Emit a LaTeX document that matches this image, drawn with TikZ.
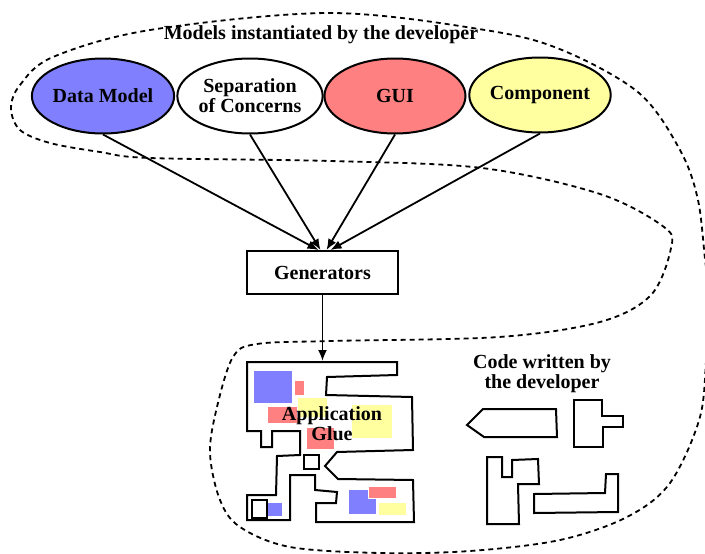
\documentclass[tikz,border=0pt]{standalone}
\usepackage{fontspec}
\setmainfont{Liberation Serif}
\usetikzlibrary{shapes.geometric,arrows.meta}
\definecolor{dmblue}{RGB}{128,128,255}
\definecolor{guired}{RGB}{255,128,128}
\definecolor{compyellow}{RGB}{255,255,160}
\begin{document}
\begin{tikzpicture}[x=1pt,y=-1pt,
		model/.style={ellipse,draw,line width=2pt,minimum width=141pt,minimum height=75pt,inner sep=0pt,align=center,font=\fontsize{20}{20}\selectfont\bfseries},
		label/.style={align=center,font=\fontsize{20}{20}\selectfont\bfseries},
		feed/.style={line width=1.8pt,-{Latex[length=11pt,width=9pt]}},
		piece/.style={line width=2pt},
		patch/.style={draw=white,line width=0.5pt}]
		\useasboundingbox (0,0) rectangle (705,554);
		\begin{scope}
			\clip (0,0) rectangle (705,554);
			\draw[line width=1.8pt,dash pattern=on 5pt off 4pt] plot[smooth cycle,tension=0.55] coordinates {
				(11,108) (20,85) (53,57) (150,30) (330,13) (485,30) (562,50) (639,93) (680,150) (698,200) (706,267) (714,310)
				(707,350) (700,417) (670,483) (627,517) (560,540) (470,551) (380,553) (290,547) (240,527) (220,500) (210,453)
				(217,407) (233,357) (257,344) (331,341) (499,337) (600,322) (651,295) (671,248) (664,227) (600,194) (482,168)
				(330,161) (150,158) (100,152) (50,143) (20,130)};
		\end{scope}
		\node[label] (models) at (321,35) {Models instantiated by the developer};
		\node[model,fill=dmblue] (dm) at (103,96) {Data Model};
		\node[model,fill=white] (soc) at (250,96) {Separation\\of Concerns};
		\node[model,fill=guired] (gui) at (395,96) {GUI};
		\node[model,fill=compyellow] (comp) at (540,95) {Component};
		\node[draw,line width=2pt,minimum width=151pt,minimum height=43pt,font=\fontsize{20}{20}\selectfont\bfseries] (gen) at (322.5,272.5) {Generators};
		\draw[feed] (dm.south) -- ([xshift=-4pt]gen.north);
		\draw[feed] (soc.south) -- ([xshift=-2pt]gen.north);
		\draw[feed] (gui.south) -- ([xshift=4pt]gen.north);
		\draw[feed] (comp.south) -- ([xshift=8pt]gen.north);
		\coordinate (gluetop) at (322.5,361);
		\draw[feed] (gen.south) -- (gluetop);
		\fill[patch,fill=dmblue] (253,370) rectangle (292,403);
		\fill[patch,fill=guired] (294,380) rectangle (304,395);
		\fill[patch,fill=guired] (267,406) rectangle (298,423);
		\fill[patch,fill=compyellow] (297,397) rectangle (327,417);
		\fill[patch,fill=compyellow] (351,404) rectangle (392,438);
		\fill[patch,fill=guired] (306,427) rectangle (334,449);
		\fill[patch,fill=dmblue] (267,502) rectangle (282,516);
		\fill[patch,fill=dmblue] (348,489) rectangle (376,514);
		\fill[patch,fill=guired] (368,486) rectangle (396,498);
		\fill[patch,fill=compyellow] (378,502) rectangle (406,515);
		\draw[piece] (247,362) -- (397,362) -- (397,375) -- (327,377) -- (326,395) -- (412,397) -- (413,450) -- (337,452)
			-- (325,466) -- (338,479) -- (413,480) -- (414,522) -- (316,522) -- (316,503) -- (336,503) -- (337,492)
			-- (315,490) -- (315,475) -- (290,475) -- (290,520) -- (247,520) -- (247,495) -- (276,495) -- (277,456)
			-- (300,455) -- (300,431) -- (272,431) -- (272,447) -- (261,447) -- (261,431) -- (247,431) -- cycle;
		\draw[piece] (304,455) rectangle (319,469);
		\draw[piece] (252,500) rectangle (267,518);
		\node[label] (glue) at (332,424) {Application\\Glue};
		\node[label] (code) at (542,374) {Code written by\\the developer};
		\draw[piece] (467,425) -- (483,409) -- (556,409) -- (557,437) -- (484,437) -- cycle;
		\draw[piece] (574,400) -- (602,400) -- (602,416) -- (623,416) -- (623,427) -- (603,427) -- (603,447) -- (574,447) -- cycle;
		\draw[piece] (487,457) -- (502,457) -- (502,477) -- (512,477) -- (512,460) -- (538,459) -- (539,484) -- (518,484)
			-- (519,524) -- (487,524) -- cycle;
		\draw[piece] (534,494) -- (605,493) -- (606,474) -- (618,474) -- (618,512) -- (534,513) -- cycle;
	\end{tikzpicture}
\end{document}
